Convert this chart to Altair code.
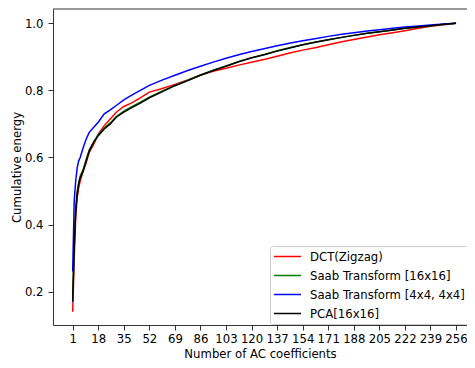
import altair as alt
import pandas as pd

x_pts = [1, 2, 3, 4, 5, 6, 8, 10, 12, 15, 18, 22, 26, 30, 35, 40, 46, 52, 60, 69, 78, 86,
         95, 103, 112, 120, 129, 137, 146, 154, 163, 171, 180, 188, 197, 205, 214, 222,
         231, 239, 248, 256]

dct = [0.14, 0.30, 0.42, 0.48, 0.51, 0.53, 0.56, 0.585, 0.615, 0.64, 0.67, 0.695, 0.715,
       0.735, 0.752, 0.762, 0.778, 0.795, 0.805, 0.818, 0.832, 0.846, 0.858, 0.866, 0.876,
       0.884, 0.893, 0.902, 0.912, 0.920, 0.928, 0.936, 0.945, 0.952, 0.959, 0.966, 0.972,
       0.978, 0.985, 0.991, 0.996, 1.0]

saab16 = [0.19, 0.34, 0.45, 0.50, 0.525, 0.545, 0.565, 0.595, 0.622, 0.647, 0.668, 0.688,
          0.703, 0.722, 0.738, 0.751, 0.765, 0.780, 0.797, 0.815, 0.831, 0.846, 0.861, 0.873,
          0.887, 0.897, 0.908, 0.918, 0.928, 0.936, 0.944, 0.951, 0.958, 0.964, 0.970, 0.975,
          0.980, 0.985, 0.989, 0.993, 0.997, 1.0]

saab4 = [0.26, 0.47, 0.53, 0.57, 0.59, 0.60, 0.63, 0.655, 0.675, 0.69, 0.705, 0.73, 0.742,
         0.755, 0.772, 0.785, 0.800, 0.815, 0.830, 0.845, 0.860, 0.872, 0.885, 0.896, 0.907,
         0.916, 0.925, 0.933, 0.941, 0.948, 0.955, 0.961, 0.967, 0.972, 0.977, 0.981, 0.985,
         0.989, 0.992, 0.995, 0.998, 1.0]

pca = [0.17, 0.33, 0.44, 0.49, 0.52, 0.54, 0.56, 0.59, 0.62, 0.645, 0.665, 0.685, 0.70,
       0.72, 0.735, 0.748, 0.762, 0.778, 0.795, 0.814, 0.830, 0.845, 0.860, 0.872, 0.886,
       0.897, 0.907, 0.917, 0.927, 0.936, 0.944, 0.951, 0.958, 0.964, 0.970, 0.975, 0.980,
       0.985, 0.989, 0.993, 0.997, 1.0]

names = ["DCT(Zigzag)", "Saab Transform [16x16]", "Saab Transform [4x4, 4x4]", "PCA[16x16]"]
colors = ["#ff0000", "#008000", "#0000ff", "#000000"]
x_ticks = [1, 18, 35, 52, 69, 86, 103, 120, 137, 154, 171, 188, 205, 222, 239, 256]
y_ticks = [0.2, 0.4, 0.6, 0.8, 1.0]

rows = []
for name, vals in zip(names, [dct, saab16, saab4, pca]):
    for i, (xv, yv) in enumerate(zip(x_pts, vals)):
        rows.append({"n": xv, "e": yv, "series": name, "idx": i})
df = pd.DataFrame(rows)

W, H = 414, 316
FS = 11.7

lines = alt.Chart(df).mark_line(strokeWidth=1.5, clip=True).encode(
    x=alt.X("n:Q",
            scale=alt.Scale(domain=[-12.1, 263.3], nice=False, zero=False),
            axis=alt.Axis(values=x_ticks, title="Number of AC coefficients", grid=False,
                          tickSize=5, labelPadding=3.5, titlePadding=3,
                          labelFlush=False, labelOverlap=False)),
    y=alt.Y("e:Q",
            scale=alt.Scale(domain=[0.1007, 1.0426], nice=False, zero=False),
            axis=alt.Axis(values=y_ticks, format=".1f", title="Cumulative energy", grid=False,
                          tickSize=5, labelPadding=5, titlePadding=2)),
    color=alt.Color("series:N",
                    scale=alt.Scale(domain=names, range=colors),
                    sort=names,
                    legend=alt.Legend(orient="none", legendX=217, legendY=237, title=None,
                                      symbolType="M-2,0H2", symbolSize=182,
                                      symbolStrokeWidth=1.5, symbolFillColor="transparent",
                                      symbolOffset=7, labelFontSize=FS,
                                      labelOffset=15, rowPadding=4, padding=3,
                                      strokeColor="#cccccc", fillColor="rgba(255,255,255,0.8)",
                                      cornerRadius=3, labelColor="black")),
    order=alt.Order("idx:Q"),
)

top_spine = alt.Chart(pd.DataFrame({"k": [0]})).mark_rule(
    color="black", strokeWidth=0.8
).encode(x=alt.value(0), x2=alt.value(W), y=alt.value(0))

chart = alt.layer(lines, top_spine).properties(
    width=W, height=H,
    padding={"left": 45, "top": 1, "right": 0, "bottom": 35},
    autosize=alt.AutoSizeParams(type="none"),
).configure(
    font="DejaVu Sans",
).configure_axis(
    labelFontSize=FS, titleFontSize=FS, titleFontWeight="normal",
    labelColor="black", titleColor="black", tickColor="black", domainColor="black",
    domainWidth=0.8, tickWidth=0.8,
).configure_view(stroke=None)

chart.save("out.html", embed_options={"renderer": "svg", "actions": False})
